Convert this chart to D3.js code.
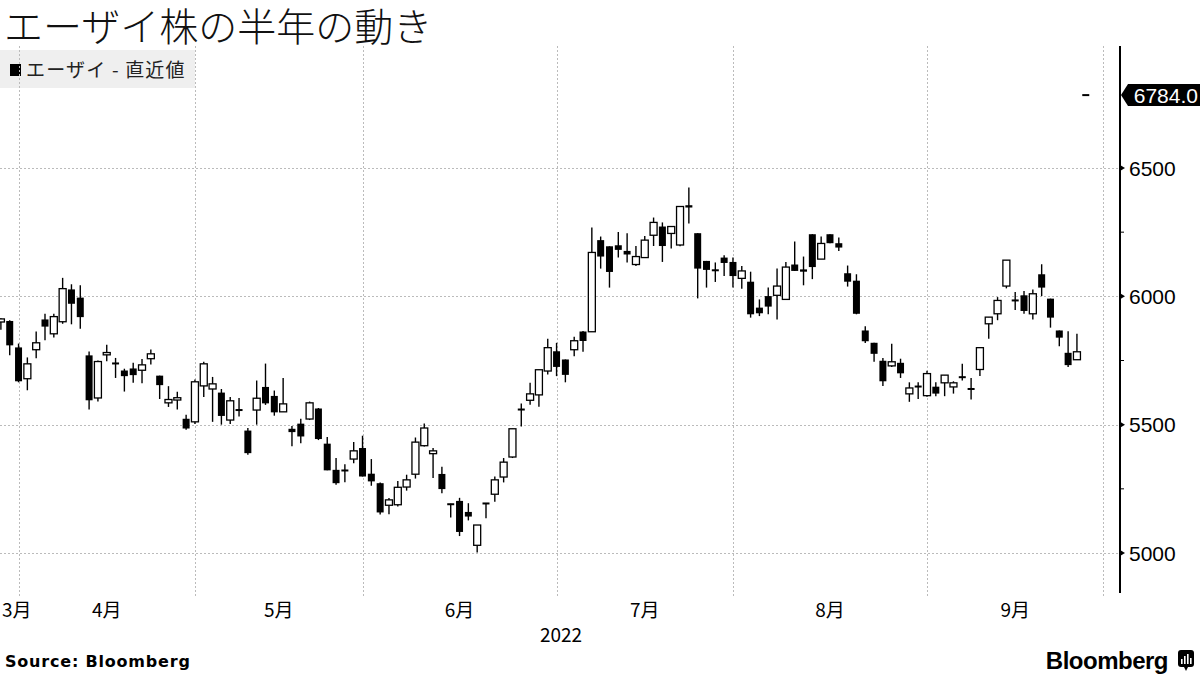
<!DOCTYPE html>
<html><head><meta charset="utf-8">
<script src="https://cdn.jsdelivr.net/npm/d3@7"></script>
<style>
html,body{margin:0;padding:0;background:#fff;}
svg{display:block;}
</style></head>
<body><svg id="c" width="1200" height="675"></svg>
<script>
const dates = ["2022-03-29","2022-03-30","2022-03-31",
"2022-04-01","2022-04-04","2022-04-05","2022-04-06","2022-04-07","2022-04-08","2022-04-11","2022-04-12","2022-04-13","2022-04-14","2022-04-15","2022-04-18","2022-04-19","2022-04-20","2022-04-21","2022-04-22","2022-04-25","2022-04-26","2022-04-27","2022-04-28",
"2022-05-02","2022-05-06","2022-05-09","2022-05-10","2022-05-11","2022-05-12","2022-05-13","2022-05-16","2022-05-17","2022-05-18","2022-05-19","2022-05-20","2022-05-23","2022-05-24","2022-05-25","2022-05-26","2022-05-27","2022-05-30","2022-05-31",
"2022-06-01","2022-06-02","2022-06-03","2022-06-06","2022-06-07","2022-06-08","2022-06-09","2022-06-10","2022-06-13","2022-06-14","2022-06-15","2022-06-16","2022-06-17","2022-06-20","2022-06-21","2022-06-22","2022-06-23","2022-06-24","2022-06-27","2022-06-28","2022-06-29","2022-06-30",
"2022-07-01","2022-07-04","2022-07-05","2022-07-06","2022-07-07","2022-07-08","2022-07-11","2022-07-12","2022-07-13","2022-07-14","2022-07-15","2022-07-19","2022-07-20","2022-07-21","2022-07-22","2022-07-25","2022-07-26","2022-07-27","2022-07-28","2022-07-29",
"2022-08-01","2022-08-02","2022-08-03","2022-08-04","2022-08-05","2022-08-08","2022-08-09","2022-08-10","2022-08-12","2022-08-15","2022-08-16","2022-08-17","2022-08-18","2022-08-19","2022-08-22","2022-08-23","2022-08-24","2022-08-25","2022-08-26","2022-08-29","2022-08-30","2022-08-31",
"2022-09-01","2022-09-02","2022-09-05","2022-09-06","2022-09-07","2022-09-08","2022-09-09","2022-09-12","2022-09-13","2022-09-14","2022-09-15","2022-09-16","2022-09-20","2022-09-21","2022-09-22","2022-09-26","2022-09-27","2022-09-28","2022-09-29","2022-09-30"];

const openV = [5900,5904,5801,5679,5792,5910,5854,5901,6027,5995,5770,5604,5772,5741,5711,5719,5712,5757,5691,5585,5596,5523,5511,
5651,5639,5625,5518,5557,5477,5557,5647,5612,5550,5484,5504,5522,5563,5426,5324,5323,5366,5409,
5309,5272,5186,5188,5257,5307,5418,5387,5308,5190,5203,5160,5030,5193,5229,5296,5374,5559,5595,5616,5709,5786,
5754,5792,5863,5862,6219,6195,6199,6177,6124,6151,6238,6272,6245,6200,6355,6246,6138,6105,6151,6134,
6070,6057,5956,6001,6004,5988,6124,6105,6242,6145,6242,6207,6090,6061,5867,5819,5749,5729,5741,5620,5645,5613,
5648,5663,5647,5687,5640,5715,5893,5932,6040,5985,6004,5932,6086,5991,5867,5780,5753,6784];
const highV = [5915,5907,5816,5762,5863,5932,5932,6072,6047,6043,5785,5750,5811,5760,5718,5741,5756,5793,5691,5650,5628,5539,5676,
5745,5686,5639,5608,5604,5487,5672,5738,5633,5682,5495,5523,5590,5565,5452,5370,5346,5432,5457,
5366,5275,5214,5281,5305,5450,5505,5409,5336,5192,5215,5194,5109,5195,5298,5370,5484,5582,5663,5714,5835,5819,
5754,5843,5865,6268,6233,6195,6251,6246,6196,6235,6307,6288,6272,6350,6424,6246,6138,6132,6160,6151,
6118,6096,5988,6034,6108,6134,6214,6155,6242,6233,6242,6229,6120,6086,5883,5819,5760,5815,5757,5665,5665,5710,
5665,5693,5669,5737,5682,5800,5919,5997,6141,6017,6021,6027,6125,5991,5867,5864,5854,6784];
const lowV = [5870,5770,5665,5634,5759,5829,5840,5893,5891,5874,5559,5590,5747,5682,5629,5663,5661,5734,5600,5569,5559,5480,5503,
5608,5511,5500,5503,5532,5383,5500,5577,5535,5550,5416,5428,5518,5440,5322,5266,5276,5350,5298,
5262,5150,5151,5181,5243,5290,5415,5292,5233,5138,5066,5127,5002,5135,5200,5275,5370,5493,5578,5570,5695,5689,
5665,5767,5784,5862,6108,6034,6151,6132,6118,6151,6196,6134,6186,6195,6284,5992,6034,6056,6079,6034,
6030,5917,5923,5930,5910,5988,6099,6043,6067,6145,6207,6177,6038,5930,5818,5745,5651,5725,5682,5589,5600,5609,
5611,5611,5621,5672,5598,5690,5835,5907,6031,5947,5932,5910,6001,5878,5806,5725,5753,6784];
const closeV = [5912,5809,5669,5737,5819,5882,5921,6030,5971,5919,5595,5746,5781,5736,5689,5693,5733,5776,5654,5598,5605,5485,5667,
5737,5659,5534,5593,5557,5389,5603,5583,5548,5581,5471,5454,5585,5444,5322,5272,5320,5398,5298,
5279,5158,5207,5256,5285,5432,5487,5398,5249,5190,5082,5142,5109,5193,5285,5354,5484,5559,5620,5714,5800,5725,
5694,5827,5826,6171,6155,6095,6181,6163,6155,6219,6288,6196,6272,6350,6346,6108,6103,6098,6130,6079,
6099,5930,5934,5960,6040,6114,6099,6096,6114,6206,6207,6190,6057,5932,5825,5776,5669,5745,5700,5643,5652,5699,
5621,5693,5663,5683,5638,5800,5919,5984,6141,5983,5943,6010,6034,5917,5839,5732,5784,6784];

const yTicks = [5000,5500,6000,6500];
const yMinor = [5250,5750,6250];
const monthEnds = ["2022-03-31","2022-04-28","2022-05-31","2022-06-30","2022-07-29","2022-08-31","2022-09-30"];
const monthLabels = ["3月","4月","5月","6月","7月","8月","9月"];
const yearLabel = "2022";
const lastValue = 6784.0;
const title = "エーザイ株の半年の動き";
const legendLabel = "エーザイ - 直近値";

const candles = openV.map((o,i)=>({d:dates[i],o:o,h:highV[i],l:lowV[i],c:closeV[i]}));

const svg = d3.select("#c");
const jp = "'Noto Sans CJK JP','Noto Sans',sans-serif";
const num = "'Liberation Sans',Arial,sans-serif";

const step = 8.82;
const x = d3.scaleBand().domain(dates).range([0.9 - step/2, 0.9 - step/2 + step*dates.length]).paddingInner(0).paddingOuter(0);
const xc = d => x(d) + x.bandwidth()/2;
const y = d3.scaleLinear().domain([5000,6500]).range([553,168]);

const plotR = 1120, plotT = 46, plotB = 592;

svg.append("rect").attr("width",1200).attr("height",675).attr("fill","#fff");

// title
svg.append("text").attr("x",4).attr("y",41).attr("font-family",jp).attr("font-weight",300).attr("font-size",39).attr("fill","#111").text(title);

// legend box
svg.append("rect").attr("x",0).attr("y",50).attr("width",195).attr("height",38).attr("fill","#efefef");
svg.append("rect").attr("x",10).attr("y",64).attr("width",11).attr("height",12).attr("fill","#000");
svg.append("text").attr("x",26).attr("y",77).attr("font-family",jp).attr("font-size",19).attr("letter-spacing",1.2).attr("fill","#222").text(legendLabel);

// gridlines
const grid = svg.append("g");
grid.selectAll("line.h").data(yTicks).join("line").attr("class","h")
  .attr("x1",0).attr("x2",plotR).attr("y1",d=>Math.round(y(d))+0.5).attr("y2",d=>Math.round(y(d))+0.5)
  .attr("stroke","#bbb").attr("stroke-width",1).attr("stroke-dasharray","2,2");
grid.selectAll("line.v").data(monthEnds.slice(0)).join("line").attr("class","v")
  .attr("x1",d=>Math.round(xc(d))+0.5).attr("x2",d=>Math.round(xc(d))+0.5).attr("y1",plotT).attr("y2",plotB+6)
  .attr("stroke","#bbb").attr("stroke-width",1).attr("stroke-dasharray","2,2");

// candles
const clip = svg.append("defs").append("clipPath").attr("id","pc");
clip.append("rect").attr("x",0).attr("y",0).attr("width",plotR).attr("height",plotB);
const cg = svg.append("g").attr("clip-path","url(#pc)");
const bw = 7;
const cs = cg.selectAll("g.c").data(candles).join("g").attr("class","c");
cs.filter(d=>d.h>d.l).append("line")
  .attr("x1",d=>xc(d.d)).attr("x2",d=>xc(d.d)).attr("y1",d=>y(d.h)).attr("y2",d=>y(d.l))
  .attr("stroke","#000").attr("stroke-width",1.4);
cs.append("rect")
  .attr("x",d=>xc(d.d)-bw/2).attr("width",bw)
  .attr("y",d=>{const t=y(Math.max(d.o,d.c)), b=y(Math.min(d.o,d.c)); return (b-t<2)?(t+b)/2-1:t;})
  .attr("height",d=>{const t=y(Math.max(d.o,d.c)), b=y(Math.min(d.o,d.c)); return Math.max(2,b-t);})
  .attr("fill",d=>(d.c>d.o && y(d.o)-y(d.c)>=2)?"#fff":"#000")
  .attr("stroke",d=>(d.c>d.o && y(d.o)-y(d.c)>=2)?"#000":"none")
  .attr("stroke-width",1.3);

// right axis
const ax = svg.append("g");
ax.append("line").attr("x1",plotR).attr("x2",plotR).attr("y1",plotT).attr("y2",plotB+1).attr("stroke","#000").attr("stroke-width",2);
ax.selectAll("path.mt").data(yTicks).join("path").attr("class","mt")
  .attr("d",d=>{const yy=y(d);return `M${plotR},${yy-3}L${plotR+5},${yy}L${plotR},${yy+3}Z`;}).attr("fill","#000");
ax.selectAll("line.mn").data(yMinor).join("line").attr("class","mn")
  .attr("x1",plotR).attr("x2",plotR+4).attr("y1",d=>y(d)).attr("y2",d=>y(d)).attr("stroke","#000").attr("stroke-width",1);
ax.selectAll("text.yl").data(yTicks).join("text").attr("class","yl")
  .attr("x",plotR+9).attr("y",d=>y(d)+7.5).attr("font-family",num).attr("font-size",21).attr("fill","#000").text(d=>d);

// last value tag
const ly = y(lastValue);
svg.append("path").attr("d",`M${plotR+1},${ly}L${plotR+8},${ly-11}L1200,${ly-11}L1200,${ly+11}L${plotR+8},${ly+11}Z`).attr("fill","#000");
svg.append("text").attr("x",1198).attr("y",ly+7.5).attr("text-anchor","end").attr("font-family",num).attr("font-size",21).attr("fill","#fff").text(lastValue.toFixed(1));

// month labels
const ends = monthEnds.map(xc);
monthLabels.forEach((m,i)=>{
  if(i===0){
    svg.append("text").attr("x",2).attr("y",617).attr("font-family",jp).attr("font-size",19).attr("fill","#000").text(m);
  } else {
    svg.append("text").attr("x",(ends[i-1]+ends[i])/2).attr("y",617).attr("text-anchor","middle").attr("font-family",jp).attr("font-size",19).attr("fill","#000").text(m);
  }
});
svg.append("text").attr("x",(ends[0]+ends[ends.length-1])/2).attr("y",642).attr("text-anchor","middle").attr("font-family",jp).attr("font-size",19).attr("fill","#000").text(yearLabel);

// source
svg.append("text").attr("x",5).attr("y",667).attr("font-family","'DejaVu Sans',sans-serif").attr("font-weight","bold").attr("font-size",16).attr("letter-spacing",0.8).attr("fill","#000").text("Source:  Bloomberg");
svg.append("text").attr("x",1168).attr("y",669).attr("text-anchor","end").attr("font-family","'Liberation Sans',Arial,sans-serif").attr("font-weight","bold").attr("font-size",24).attr("letter-spacing",-0.5).attr("fill","#000").text("Bloomberg");
const lg = svg.append("g").attr("transform","translate(1178,650)");
lg.append("rect").attr("width",16).attr("height",17).attr("rx",3).attr("fill","#000");
lg.append("path").attr("d","M6,17L8,21L10,17Z").attr("fill","#000");
[[3,9],[6,6],[9,4],[12,8]].forEach(b=>lg.append("rect").attr("x",b[0]).attr("y",b[1]).attr("width",1.6).attr("height",14-b[1]).attr("fill","#fff"));
</script></body></html>
